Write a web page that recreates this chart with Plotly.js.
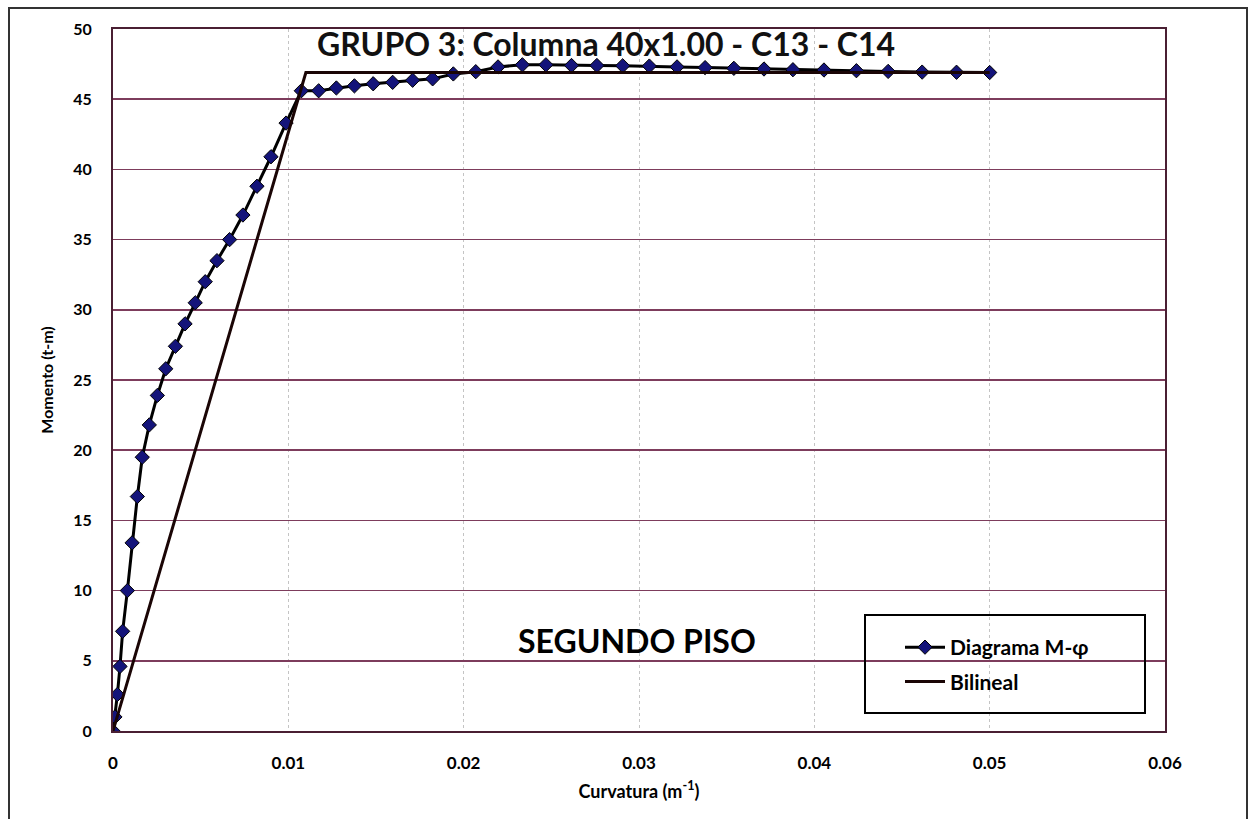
<!DOCTYPE html>
<html>
<head>
<meta charset="utf-8">
<script src="https://cdn.plot.ly/plotly-3.0.1.min.js"></script>
<style>
html,body{margin:0;padding:0;background:#fff;}
#chart{width:1251px;height:819px;}
</style>
</head>
<body>
<div id="chart"></div>
<script>
// Diagrama M-phi (curvature in 1/m, moment in t-m)
const curvatura = [0, 0.00011, 0.00025, 0.0004, 0.00055, 0.00082, 0.00109, 0.00139, 0.00167, 0.00207,
  0.00253, 0.00301, 0.00356, 0.00411, 0.00469, 0.00526, 0.00593, 0.00665, 0.00741, 0.00821,
  0.00901, 0.00987, 0.01074, 0.01173, 0.01274, 0.01377, 0.01484, 0.01595, 0.01709, 0.01823,
  0.01941, 0.02069, 0.02196, 0.02335, 0.02469, 0.02615, 0.0276, 0.02907, 0.03059, 0.03217,
  0.03377, 0.03541, 0.03713, 0.03878, 0.04055, 0.0424, 0.04421, 0.04615, 0.04811, 0.05];
const momento = [0, 1.0, 2.6, 4.6, 7.1, 10.0, 13.4, 16.7, 19.5, 21.8,
  23.9, 25.8, 27.4, 29.0, 30.5, 32.0, 33.5, 35.0, 36.75, 38.8,
  40.9, 43.3, 45.6, 45.6, 45.8, 45.95, 46.1, 46.2, 46.35, 46.45,
  46.8, 46.96, 47.3, 47.45, 47.45, 47.4, 47.4, 47.38, 47.36, 47.3,
  47.25, 47.2, 47.15, 47.1, 47.08, 47.03, 46.98, 46.93, 46.92, 46.9];
// Bilineal
const bilCurv = [0, 0.011, 0.05];
const bilMom = [0, 46.9, 46.9];

const xTicks = [0, 0.01, 0.02, 0.03, 0.04, 0.05, 0.06];
const xTickText = ['0', '0.01', '0.02', '0.03', '0.04', '0.05', '0.06'];
const yTicks = [0, 5, 10, 15, 20, 25, 30, 35, 40, 45, 50];

const FONT = 'Lato, "Open Sans", sans-serif';

const traces = [
  {
    x: curvatura, y: momento, type: 'scatter', mode: 'lines+markers',
    name: 'Diagrama M-φ', legendgroup: 'a',
    line: {color: '#000000', width: 3},
    marker: {symbol: 'diamond', size: 11, color: '#14147a', line: {color: '#000', width: 1}}
  },
  {
    x: bilCurv, y: bilMom, type: 'scatter', mode: 'lines',
    name: 'Bilineal', legendgroup: 'b',
    line: {color: '#1a0505', width: 3}
  }
];

const layout = {
  width: 1251, height: 819,
  margin: {l: 113, r: 86, t: 29, b: 88},
  paper_bgcolor: '#ffffff', plot_bgcolor: '#ffffff',
  font: {family: FONT, color: '#000'},
  showlegend: true,
  legend: {
    x: (900 - 113) / 1052, y: (731 - 627) / 702, xanchor: 'left', yanchor: 'top',
    bgcolor: 'rgba(0,0,0,0)', borderwidth: 0,
    font: {family: FONT, size: 21, color: '#000', weight: 'bold'},
    tracegroupgap: 4, itemwidth: 40
  },
  xaxis: {
    range: [0, 0.06], tickvals: xTicks, ticktext: xTickText,
    showgrid: true, gridcolor: '#c4c4c4', griddash: 'dot', gridwidth: 1,
    zeroline: false, showline: true, linecolor: '#4a1f33', linewidth: 2, mirror: true,
    ticks: '', ticklabelstandoff: 16,
    tickfont: {family: FONT, size: 17, color: '#000', weight: 'bold'},
    title: {text: 'Curvatura (m<sup>-1</sup>)', font: {family: FONT, size: 18, color: '#000', weight: 'bold'}, standoff: 13},
    automargin: false
  },
  yaxis: {
    range: [0, 50], tickvals: yTicks,
    showgrid: true, gridcolor: '#7d3c5c', gridwidth: 1.5,
    zeroline: false, showline: true, linecolor: '#4a1f33', linewidth: 2, mirror: true,
    ticks: '', ticklabelstandoff: 16,
    tickfont: {family: FONT, size: 16, color: '#000', weight: 'bold'},
    title: {text: 'Momento (t-m)', font: {family: FONT, size: 16, color: '#000', weight: 'bold'}, standoff: 16},
    automargin: false
  },
  annotations: [
    {
      text: 'GRUPO 3: Columna 40x1.00 - C13 - C14', xref: 'paper', yref: 'paper',
      x: (606 - 113) / 1052, y: (731 - 43) / 702, xanchor: 'center', yanchor: 'middle',
      showarrow: false, font: {family: FONT, size: 32, color: '#111', weight: 'bold'}
    },
    {
      text: 'SEGUNDO PISO', xref: 'paper', yref: 'paper',
      x: (637 - 113) / 1052, y: (731 - 640) / 702, xanchor: 'center', yanchor: 'middle',
      showarrow: false, font: {family: FONT, size: 32, color: '#000', weight: 'bold'}
    }
  ],
  shapes: [
    {type: 'rect', xref: 'paper', yref: 'paper',
     x0: (865 - 113) / 1052, x1: (1145 - 113) / 1052, y0: (731 - 713) / 702, y1: (731 - 615) / 702,
     line: {color: '#000', width: 2}, fillcolor: 'rgba(255,255,255,0)', layer: 'above'},
    {type: 'rect', xref: 'paper', yref: 'paper',
     x0: (9 - 113) / 1052, x1: (1247 - 113) / 1052, y0: (731 - 830) / 702, y1: (731 - 8) / 702,
     line: {color: '#333', width: 2}, fillcolor: 'rgba(0,0,0,0)', layer: 'below'}
  ]
};

Plotly.newPlot('chart', traces, layout, {staticPlot: true, displayModeBar: false});
</script>
</body>
</html>
